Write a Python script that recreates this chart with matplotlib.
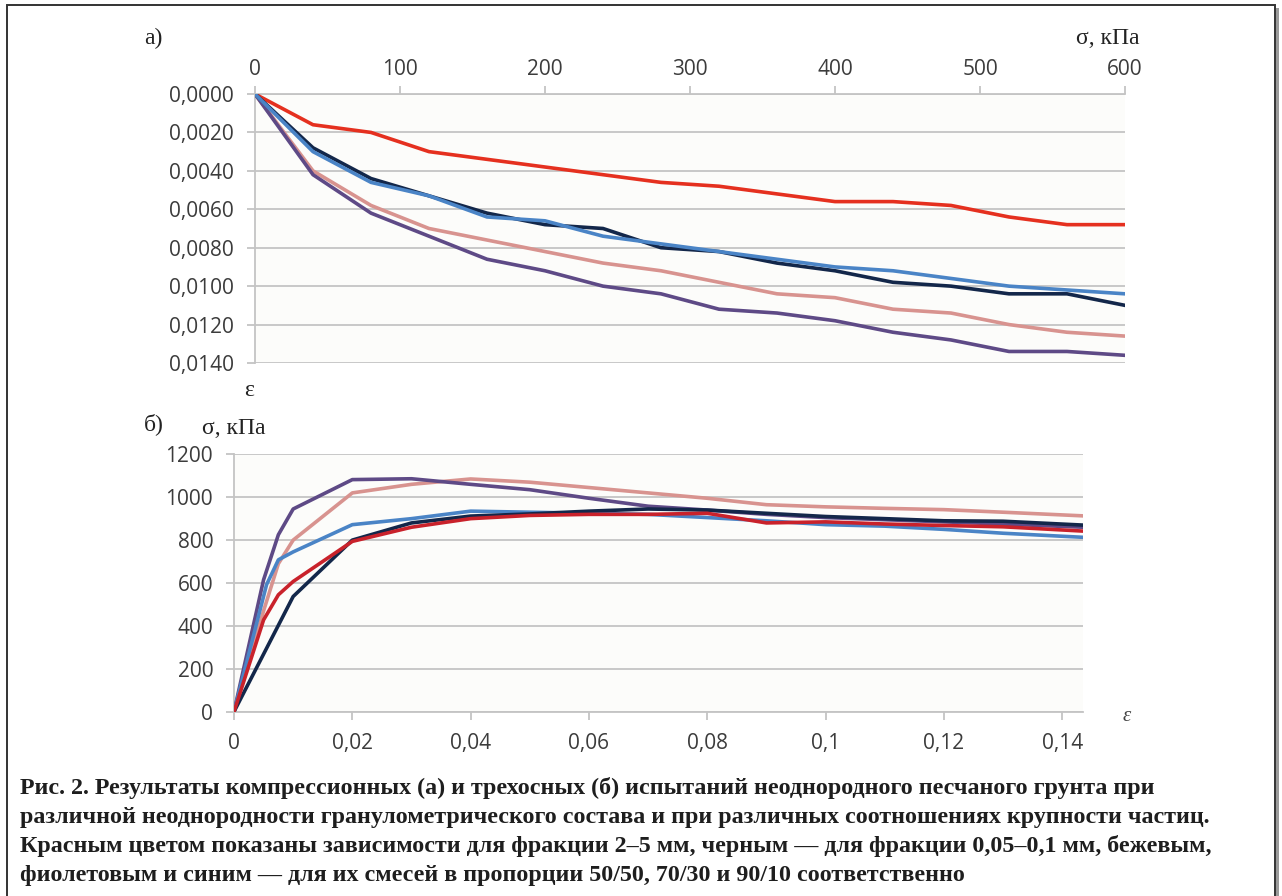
import matplotlib
matplotlib.use("Agg")
import matplotlib.pyplot as plt
from matplotlib.ticker import FuncFormatter
from matplotlib.patches import Rectangle

# ---------------- data: chart a) compression ----------------
sigma_a = [0, 40, 80, 120, 160, 200, 240, 280, 320, 360, 400, 440, 480, 520, 560, 600]
eps_red_a = [0, 0.0016, 0.0020, 0.0030, 0.0034, 0.0038, 0.0042, 0.0046, 0.0048, 0.0052,
             0.0056, 0.0056, 0.0058, 0.0064, 0.0068, 0.0068]
eps_black_a = [0, 0.0028, 0.0044, 0.0053, 0.0062, 0.0068, 0.0070, 0.0080, 0.0082, 0.0088,
               0.0092, 0.0098, 0.0100, 0.0104, 0.0104, 0.0110]
eps_blue_a = [0, 0.0030, 0.0046, 0.0053, 0.0064, 0.0066, 0.0074, 0.0078, 0.0082, 0.0086,
              0.0090, 0.0092, 0.0096, 0.0100, 0.0102, 0.0104]
eps_beige_a = [0, 0.0040, 0.0058, 0.0070, 0.0076, 0.0082, 0.0088, 0.0092, 0.0098, 0.0104,
               0.0106, 0.0112, 0.0114, 0.0120, 0.0124, 0.0126]
eps_purple_a = [0, 0.0042, 0.0062, 0.0074, 0.0086, 0.0092, 0.0100, 0.0104, 0.0112, 0.0114,
                0.0118, 0.0124, 0.0128, 0.0134, 0.0134, 0.0136]

# ---------------- data: chart б) triaxial ----------------
eps_red_b = [0, 0.005, 0.0075, 0.01, 0.02, 0.03, 0.04, 0.05, 0.06, 0.07, 0.08, 0.09,
             0.10, 0.11, 0.12, 0.13, 0.1435]
sig_red_b = [0, 428, 545, 607, 794, 860, 900, 915, 920, 920, 925, 880, 885, 875, 868, 862, 842]
eps_black_b = [0, 0.01, 0.02, 0.03, 0.04, 0.05, 0.06, 0.07, 0.08, 0.09, 0.10, 0.11, 0.12,
               0.13, 0.1435]
sig_black_b = [0, 537, 800, 880, 912, 922, 935, 945, 940, 925, 910, 900, 890, 888, 870]
eps_blue_b = [0, 0.0055, 0.0075, 0.01, 0.02, 0.03, 0.04, 0.05, 0.06, 0.07, 0.08, 0.09,
              0.10, 0.11, 0.12, 0.13, 0.1435]
sig_blue_b = [0, 592, 708, 745, 872, 900, 935, 930, 925, 920, 905, 890, 872, 865, 850, 832, 813]
eps_beige_b = [0, 0.005, 0.0075, 0.01, 0.02, 0.03, 0.04, 0.05, 0.06, 0.07, 0.08, 0.09,
               0.10, 0.11, 0.12, 0.13, 0.1435]
sig_beige_b = [0, 470, 690, 800, 1020, 1060, 1085, 1070, 1045, 1020, 995, 965, 955, 948,
               942, 930, 913]
eps_purple_b = [0, 0.005, 0.0075, 0.01, 0.02, 0.03, 0.04, 0.05, 0.06, 0.07, 0.08, 0.09,
                0.10, 0.11, 0.12, 0.13, 0.1435]
sig_purple_b = [0, 615, 825, 945, 1082, 1086, 1060, 1035, 995, 958, 940, 920, 905, 895,
                885, 875, 860]

x_ticks_a = [0, 100, 200, 300, 400, 500, 600]
y_ticks_a = [0, 0.002, 0.004, 0.006, 0.008, 0.010, 0.012, 0.014]
x_ticks_b = [0, 0.02, 0.04, 0.06, 0.08, 0.10, 0.12, 0.14]
y_ticks_b = [0, 200, 400, 600, 800, 1000, 1200]

caption_lines = [
    "Рис. 2. Результаты компрессионных (а) и трехосных (б) испытаний неоднородного песчаного грунта при",
    "различной неоднородности гранулометрического состава и при различных соотношениях крупности частиц.",
    "Красным цветом показаны зависимости для фракции 2–5 мм, черным — для фракции 0,05–0,1 мм, бежевым,",
    "фиолетовым и синим — для их смесей в пропорции 50/50, 70/30 и 90/10 соответственно",
]

# colours
C_RED_A = "#e5301f"
C_RED_B = "#c9222b"
C_BLACK = "#13274a"
C_BLUE = "#4a84c6"
C_BEIGE = "#d8938f"
C_PURPLE = "#5e4a86"
GRID = "#c4c4c4"
TICKCOL = "#3c3c3c"
LW = 2.6

W, H = 1282, 896
fig = plt.figure(figsize=(W / 100, H / 100), dpi=100)
fig.patch.set_facecolor("white")

TICKFAM = ["Open Sans", "DejaVu Sans"]
TICKSIZE = 15
SERIF = ["Liberation Serif", "DejaVu Serif"]


def comma(fmt):
    return FuncFormatter(lambda v, p: fmt(v).replace(".", ","))


def ax_rect(l, t, r, b):
    return [l / W, 1 - b / H, (r - l) / W, (b - t) / H]


def style_labels(ax):
    for lab in ax.get_xticklabels() + ax.get_yticklabels():
        lab.set_fontfamily(TICKFAM)
        lab.set_fontsize(TICKSIZE)


# ---------------- chart a ----------------
axa = fig.add_axes(ax_rect(255, 94, 1125, 363))
axa.set_facecolor("#fcfcfa")
for ys_, c in [(eps_red_a, C_RED_A), (eps_beige_a, C_BEIGE), (eps_purple_a, C_PURPLE),
               (eps_black_a, C_BLACK), (eps_blue_a, C_BLUE)]:
    axa.plot(sigma_a, ys_, color=c, lw=LW, solid_joinstyle="round", zorder=3)
axa.set_xlim(0, 600)
axa.set_ylim(0.014, 0)
axa.xaxis.tick_top()
axa.set_xticks(x_ticks_a)
axa.set_yticks(y_ticks_a)
axa.xaxis.set_major_formatter(FuncFormatter(lambda v, p: f"{v:.0f}"))
axa.yaxis.set_major_formatter(comma(lambda v: f"{v:.4f}"))
axa.grid(axis="y", color=GRID, lw=1.3)
axa.set_axisbelow(True)
for s in ["right", "bottom"]:
    axa.spines[s].set_visible(False)
for s in ["top", "left"]:
    axa.spines[s].set_color(GRID)
    axa.spines[s].set_linewidth(1.3)
axa.tick_params(axis="both", colors=GRID, labelcolor=TICKCOL, length=6, width=1.3)
axa.tick_params(axis="x", pad=4)
axa.tick_params(axis="y", pad=9)
style_labels(axa)

# ---------------- chart b ----------------
axb = fig.add_axes(ax_rect(234, 454.3, 1083, 711.7))
axb.set_facecolor("#fcfcfa")
for xs_, ys_, c in [(eps_beige_b, sig_beige_b, C_BEIGE), (eps_purple_b, sig_purple_b, C_PURPLE),
                    (eps_blue_b, sig_blue_b, C_BLUE), (eps_black_b, sig_black_b, C_BLACK),
                    (eps_red_b, sig_red_b, C_RED_B)]:
    axb.plot(xs_, ys_, color=c, lw=LW, solid_joinstyle="round", zorder=3)
axb.set_xlim(0, 0.1435)
axb.set_ylim(0, 1200)
axb.set_xticks(x_ticks_b)
axb.set_yticks(y_ticks_b)
axb.xaxis.set_major_formatter(comma(lambda v: f"{v:.2f}".rstrip("0").rstrip(".")))
axb.yaxis.set_major_formatter(FuncFormatter(lambda v, p: f"{v:.0f}"))
axb.grid(axis="y", color=GRID, lw=1.3)
axb.set_axisbelow(True)
for s in ["right", "top"]:
    axb.spines[s].set_visible(False)
for s in ["bottom", "left"]:
    axb.spines[s].set_color(GRID)
    axb.spines[s].set_linewidth(1.3)
axb.tick_params(axis="both", colors=GRID, labelcolor=TICKCOL, length=6, width=1.3)
axb.tick_params(axis="x", pad=9)
axb.tick_params(axis="y", pad=9)
style_labels(axb)


# ---------------- labels ----------------
def ftext(x, y, s, **kw):
    fig.text(x / W, 1 - y / H, s, **kw)


ftext(153, 38, "а)", family=SERIF, size=17, ha="center", va="center", color="#222222")
ftext(1108, 38, "σ, кПа", family=SERIF, size=17, ha="center", va="center", color="#222222")
ftext(249, 390, "ε", family=SERIF, size=17, ha="center", va="center", color="#222222")
ftext(154, 424, "б)", family=SERIF, size=17, ha="center", va="center", color="#222222")
ftext(234, 428, "σ, кПа", family=SERIF, size=17, ha="center", va="center", color="#222222")
ftext(1127, 716, "ε", family=SERIF, size=15, style="italic", ha="center", va="center",
      color="#444444")

ys = [788, 817, 846, 875]
for yy, line in zip(ys, caption_lines):
    ftext(20, yy, line, family=SERIF, size=17.3, weight="bold", ha="left", va="center",
          color="#1e1e1e")

# frame with shadow
fig.add_artist(Rectangle((1276 / W, -0.05), 3 / W, 1 - 8 / H + 0.05,
                         transform=fig.transFigure, facecolor="#9a9a9a", edgecolor="none"))
fig.add_artist(Rectangle((7 / W, -0.05), (1275 - 7) / W, 1 - 5 / H + 0.05,
                         transform=fig.transFigure, facecolor="none", edgecolor="#333333",
                         lw=1.4))

fig.savefig("out.png", dpi=100, facecolor="white")
